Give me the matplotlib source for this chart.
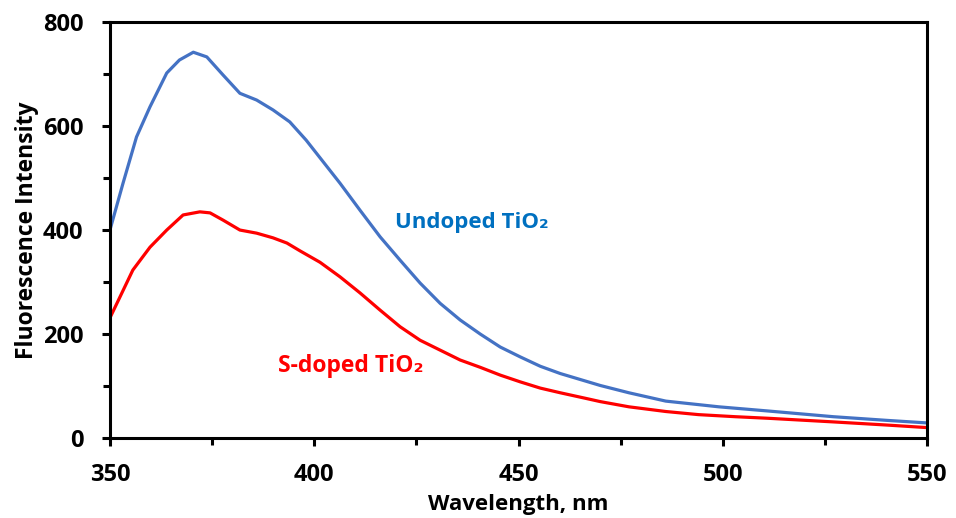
import matplotlib
matplotlib.use("Agg")
import matplotlib.pyplot as plt
from matplotlib.ticker import MultipleLocator

# ---------- Data ----------
wl_undoped = [350, 353.2, 356.5, 359.8, 363.9, 367, 370.4, 373.7, 377.7, 381.8,
              385.9, 389.9, 394, 398, 401.4, 406.3, 411.2, 416.1, 421, 425.9,
              430.8, 435.7, 440.6, 445.5, 450.4, 455.3, 460.2, 470, 477, 486,
              499, 511, 527, 540, 550]
undoped = [400, 490, 579, 637, 702, 727, 742, 733, 698, 663,
           650, 631, 608, 573, 539, 490, 438, 387, 342, 298,
           259, 227, 200, 175, 156, 138, 124, 101, 87, 71,
           60, 52, 41, 34, 29]

wl_sdoped = [350, 355.6, 359.8, 363.9, 367.9, 372, 374.5, 377.7, 381.8, 385.9,
             389.9, 393.3, 396.5, 401.4, 406.3, 411.2, 416.1, 421, 425.9, 430.8,
             435.7, 440.6, 445.5, 450.4, 455.3, 460.2, 466, 470, 477, 486,
             494, 503, 511, 527, 540, 550]
sdoped = [231, 323, 367, 400, 429, 435, 433, 419, 400, 394,
          385, 375, 360, 338, 310, 279, 246, 214, 188, 169,
          150, 136, 121, 108, 96, 87, 77, 70, 60, 51,
          45, 41, 38, 31, 25, 20]

label_font = ["Open Sans", "DejaVu Sans"]

fig = plt.figure(figsize=(9.56, 5.18), dpi=100)
ax = fig.add_axes([0.115, 0.1544, 0.855, 0.803])

ax.plot(wl_undoped, undoped, color="#4472C4", lw=2.3, solid_capstyle="butt")
ax.plot(wl_sdoped, sdoped, color="#FF0000", lw=2.3, solid_capstyle="butt")

ax.set_xlim(350, 550)
ax.set_ylim(0, 800)
ax.xaxis.set_major_locator(MultipleLocator(50))
ax.xaxis.set_minor_locator(MultipleLocator(25))
ax.yaxis.set_major_locator(MultipleLocator(200))
ax.yaxis.set_minor_locator(MultipleLocator(100))

for s in ax.spines.values():
    s.set_linewidth(2.2)
ax.tick_params(which="major", direction="out", length=6, width=2.2, labelsize=17)
ax.tick_params(which="minor", direction="out", length=5, width=2.2)
ax.tick_params(axis="x", which="major", pad=12)
ax.tick_params(axis="y", which="major", pad=13)
for lbl in ax.get_xticklabels() + ax.get_yticklabels():
    lbl.set_fontweight("bold")
    lbl.set_family(label_font)

ax.set_xlabel("Wavelength, nm", fontsize=16, fontweight="bold",
              family=label_font, labelpad=5)
ax.set_ylabel("Fluorescence Intensity", fontsize=16.5, fontweight="bold",
              family=label_font, labelpad=3)

ax.text(438.6, 415, "Undoped TiO\u2082", color="#0070C0", fontsize=16,
        fontweight="bold", family=label_font, ha="center", va="center")
ax.text(409, 139, "S-doped TiO\u2082", color="#FF0000", fontsize=16.5,
        fontweight="bold", family=label_font, ha="center", va="center")

fig.savefig("out.png", dpi=100)
